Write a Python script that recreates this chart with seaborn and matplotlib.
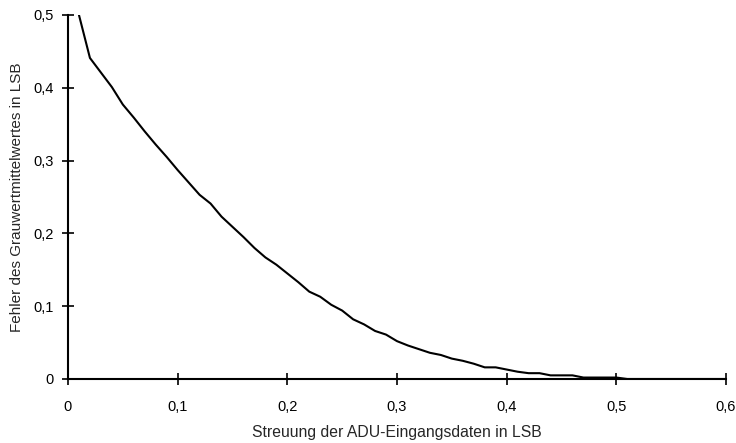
import matplotlib
matplotlib.use("Agg")
import matplotlib.pyplot as plt
import seaborn as sns
import pandas as pd

sns.set_theme(style="ticks")
plt.rcParams['font.family'] = ['Liberation Sans', 'DejaVu Sans']

streuung = [0.01, 0.02, 0.03, 0.04, 0.05, 0.06, 0.07, 0.08, 0.09, 0.10,
            0.11, 0.12, 0.13, 0.14, 0.15, 0.16, 0.17, 0.18, 0.19, 0.20,
            0.21, 0.22, 0.23, 0.24, 0.25, 0.26, 0.27, 0.28, 0.29, 0.30,
            0.31, 0.32, 0.33, 0.34, 0.35, 0.36, 0.37, 0.38, 0.39, 0.40,
            0.41, 0.42, 0.43, 0.44, 0.45, 0.46, 0.47, 0.48, 0.49, 0.50,
            0.51, 0.52, 0.53, 0.54, 0.55, 0.56, 0.57, 0.58, 0.59, 0.60]
fehler = [0.500, 0.441, 0.421, 0.401, 0.377, 0.359, 0.340, 0.322, 0.305, 0.287,
          0.270, 0.253, 0.241, 0.223, 0.209, 0.195, 0.180, 0.167, 0.157, 0.145,
          0.133, 0.120, 0.113, 0.102, 0.094, 0.082, 0.075, 0.066, 0.061, 0.052,
          0.046, 0.041, 0.036, 0.033, 0.028, 0.025, 0.021, 0.016, 0.016, 0.013,
          0.010, 0.008, 0.008, 0.005, 0.005, 0.005, 0.002, 0.002, 0.002, 0.002,
          0.000, 0.000, 0.000, 0.000, 0.000, 0.000, 0.000, 0.000, 0.000, 0.000]

x_ticks = [0, 0.1, 0.2, 0.3, 0.4, 0.5, 0.6]
x_labels = ["0", "0,1", "0,2", "0,3", "0,4", "0,5", "0,6"]
y_ticks = [0, 0.1, 0.2, 0.3, 0.4, 0.5]
y_labels = ["0", "0,1", "0,2", "0,3", "0,4", "0,5"]

df = pd.DataFrame({"x": streuung, "y": fehler})

fig = plt.figure(figsize=(7.36, 4.43), dpi=100)
ax = fig.add_axes([68/736, 1 - 379/443, (726 - 68)/736, (379 - 15)/443])
sns.lineplot(data=df, x="x", y="y", ax=ax, color="black", linewidth=1.5)

ax.set_xlim(0, 0.6)
ax.set_ylim(0, 0.5)
ax.set_xticks(x_ticks)
ax.set_xticklabels(x_labels)
ax.set_yticks(y_ticks)
ax.set_yticklabels(y_labels)
ax.tick_params(direction="inout", length=8, width=1.2, colors="black",
               labelsize=10.5)
ax.tick_params(axis="x", pad=11)
ax.tick_params(axis="y", pad=6)
for s in ["top", "right"]:
    ax.spines[s].set_visible(False)
for s in ["left", "bottom"]:
    ax.spines[s].set_color("black")
    ax.spines[s].set_linewidth(1.5)
ax.set_xlabel("Streuung der ADU-Eingangsdaten in LSB", fontsize=11.3, labelpad=8)
ax.set_ylabel("Fehler des Grauwertmittelwertes in LSB", fontsize=11, labelpad=7)
ax.grid(False)

fig.savefig("out.png", dpi=100)
